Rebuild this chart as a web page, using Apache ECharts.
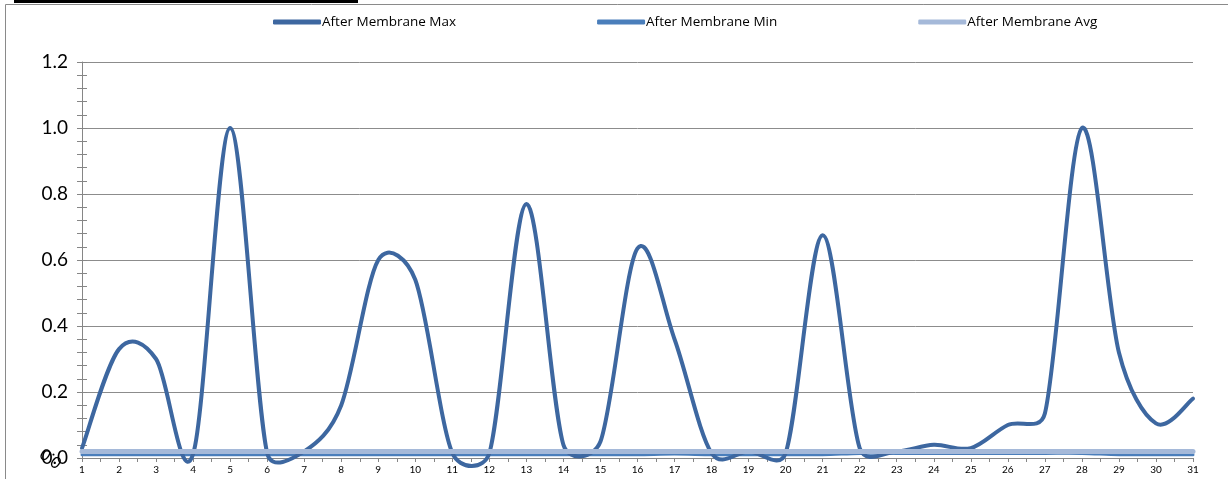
<!DOCTYPE html>
<html>
<head>
<meta charset="utf-8">
<title>After Membrane</title>
<script src="https://cdn.jsdelivr.net/npm/echarts@6/dist/echarts.min.js"></script>
<style>
  html, body { margin: 0; padding: 0; background: #fff; }
  #chart { width: 1228px; height: 479px; }
</style>
</head>
<body>
<div id="chart"></div>
<script>
// day of month
var days = [1,2,3,4,5,6,7,8,9,10,11,12,13,14,15,16,17,18,19,20,21,22,23,24,25,26,27,28,29,30,31];

var maxVals = [0.03,0.33,0.30,0.012,1.00,0.015,0.02,0.16,0.60,0.54,0.015,0.015,0.77,0.04,0.05,0.635,0.36,0.015,0.02,0.015,0.675,0.03,0.02,0.04,0.03,0.10,0.135,1.00,0.32,0.105,0.18];
var minVals = [0.01,0.01,0.01,0.01,0.01,0.01,0.01,0.01,0.01,0.01,0.01,0.01,0.01,0.01,0.01,0.01,0.012,0.01,0.01,0.01,0.01,0.014,0.014,0.014,0.014,0.014,0.014,0.014,0.01,0.01,0.01];
var avgVals = [0.02,0.02,0.02,0.02,0.02,0.02,0.02,0.02,0.02,0.02,0.02,0.02,0.02,0.02,0.02,0.02,0.02,0.02,0.02,0.02,0.02,0.02,0.02,0.02,0.02,0.02,0.02,0.02,0.02,0.02,0.02];

var seriesNames = ['After Membrane Max', 'After Membrane Min', 'After Membrane Avg'];
var colors = ['#3d67a0', '#4a7ebb', '#a5b9d9'];
var widths = [4, 3, 5];

function pairs(vals) {
    return days.map(function (d, i) { return [d, vals[i]]; });
}

function dist(a, b) {
    return Math.sqrt((a[0] - b[0]) * (a[0] - b[0]) + (a[1] - b[1]) * (a[1] - b[1]));
}

// spreadsheet-style smoothed line: bezier through every point,
// control arms 1/6 of the neighbour span, shortened on short segments
function smoothPath(pts) {
    var n = pts.length;
    var d = 'M' + pts[0][0] + ',' + pts[0][1];
    for (var i = 0; i < n - 1; i++) {
        var p0 = pts[Math.max(i - 1, 0)], p1 = pts[i], p2 = pts[i + 1], p3 = pts[Math.min(i + 2, n - 1)];
        var seg = dist(p1, p2);
        var s1 = dist(p0, p2), s2 = dist(p1, p3);
        var f1 = s1 > 0 ? Math.min(1 / 6, 0.5 * seg / s1) : 0;
        var f2 = s2 > 0 ? Math.min(1 / 6, 0.5 * seg / s2) : 0;
        var c1x = p1[0] + f1 * (p2[0] - p0[0]), c1y = p1[1] + f1 * (p2[1] - p0[1]);
        var c2x = p2[0] - f2 * (p3[0] - p1[0]), c2y = p2[1] - f2 * (p3[1] - p1[1]);
        d += 'C' + c1x + ',' + c1y + ' ' + c2x + ',' + c2y + ' ' + p2[0] + ',' + p2[1];
    }
    return d;
}

function makeSeries(k, vals) {
    return {
        name: seriesNames[k],
        type: 'custom',
        data: pairs(vals),
        itemStyle: { color: colors[k] },
        z: [3, 2, 4][k],
        renderItem: function (params, api) {
            if (params.dataIndex !== 0) return null;
            var pts = days.map(function (day, i) { return api.coord([day, vals[i]]); });
            return {
                type: 'path',
                shape: { pathData: smoothPath(pts) },
                style: { fill: 'none', stroke: colors[k], lineWidth: widths[k], lineJoin: 'round', lineCap: 'round' }
            };
        }
    };
}

var chart = echarts.init(document.getElementById('chart'));
chart.setOption({
    backgroundColor: '#fff',
    animation: false,
    textStyle: { fontFamily: 'Lato, "Open Sans", sans-serif' },
    graphic: [
        { type: 'rect', shape: { x: 5.5, y: 4.5, width: 1240, height: 500 }, style: { fill: 'none', stroke: '#8a8a8a', lineWidth: 1 }, silent: true },
        { type: 'rect', shape: { x: 14, y: 0, width: 344, height: 3 }, style: { fill: '#000' }, silent: true },
        // the overprinted, turned copy of the bottom label
        { type: 'text', x: 51, y: 458, rotation: Math.PI * 0.8, silent: true,
          style: { text: '0.0', fontSize: 16, fill: '#000', align: 'center', verticalAlign: 'middle', fontFamily: 'Lato, sans-serif' } }
    ],
    legend: {
        top: 10,
        left: 268,
        itemGap: 141,
        itemWidth: 48,
        itemHeight: 5,
        icon: 'roundRect',
        textStyle: { fontSize: 13.5, color: '#000', fontFamily: '"Open Sans", sans-serif', padding: [0, 0, 0, -4] },
        data: seriesNames
    },
    grid: { left: 82, right: 35, top: 62, bottom: 21 },
    xAxis: {
        type: 'value',
        min: 1,
        max: 31,
        interval: 1,
        axisLine: { lineStyle: { color: '#868686' } },
        axisTick: { length: 4, lineStyle: { color: '#868686' } },
        minorTick: { show: true, splitNumber: 2, length: 4, lineStyle: { color: '#868686' } },
        splitLine: { show: false },
        axisLabel: { fontSize: 10, color: '#000', margin: 7 }
    },
    yAxis: [{
        type: 'value',
        min: 0,
        max: 1.2,
        interval: 0.2,
        axisLine: { show: true, lineStyle: { color: '#868686' } },
        axisTick: { show: true, length: 5, lineStyle: { color: '#868686' } },
        minorTick: { show: true, splitNumber: 5, length: 5, lineStyle: { color: '#868686' } },
        splitLine: { lineStyle: { color: '#8c8c8c', width: 1 } },
        axisLabel: {
            fontSize: 19,
            color: '#000',
            margin: 14,
            formatter: function (v) { return v.toFixed(1); }
        }
    }, {
        // inner half of the crossing tick marks
        type: 'value',
        position: 'left',
        min: 0,
        max: 1.2,
        interval: 0.2,
        axisLine: { show: false },
        axisTick: { show: true, inside: true, length: 5, lineStyle: { color: '#868686' } },
        minorTick: { show: true, splitNumber: 5, length: 5, lineStyle: { color: '#868686' } },
        splitLine: { show: false },
        axisLabel: { show: false }
    }],
    series: [
        makeSeries(0, maxVals),
        makeSeries(1, minVals),
        makeSeries(2, avgVals)
    ]
});
</script>
</body>
</html>
